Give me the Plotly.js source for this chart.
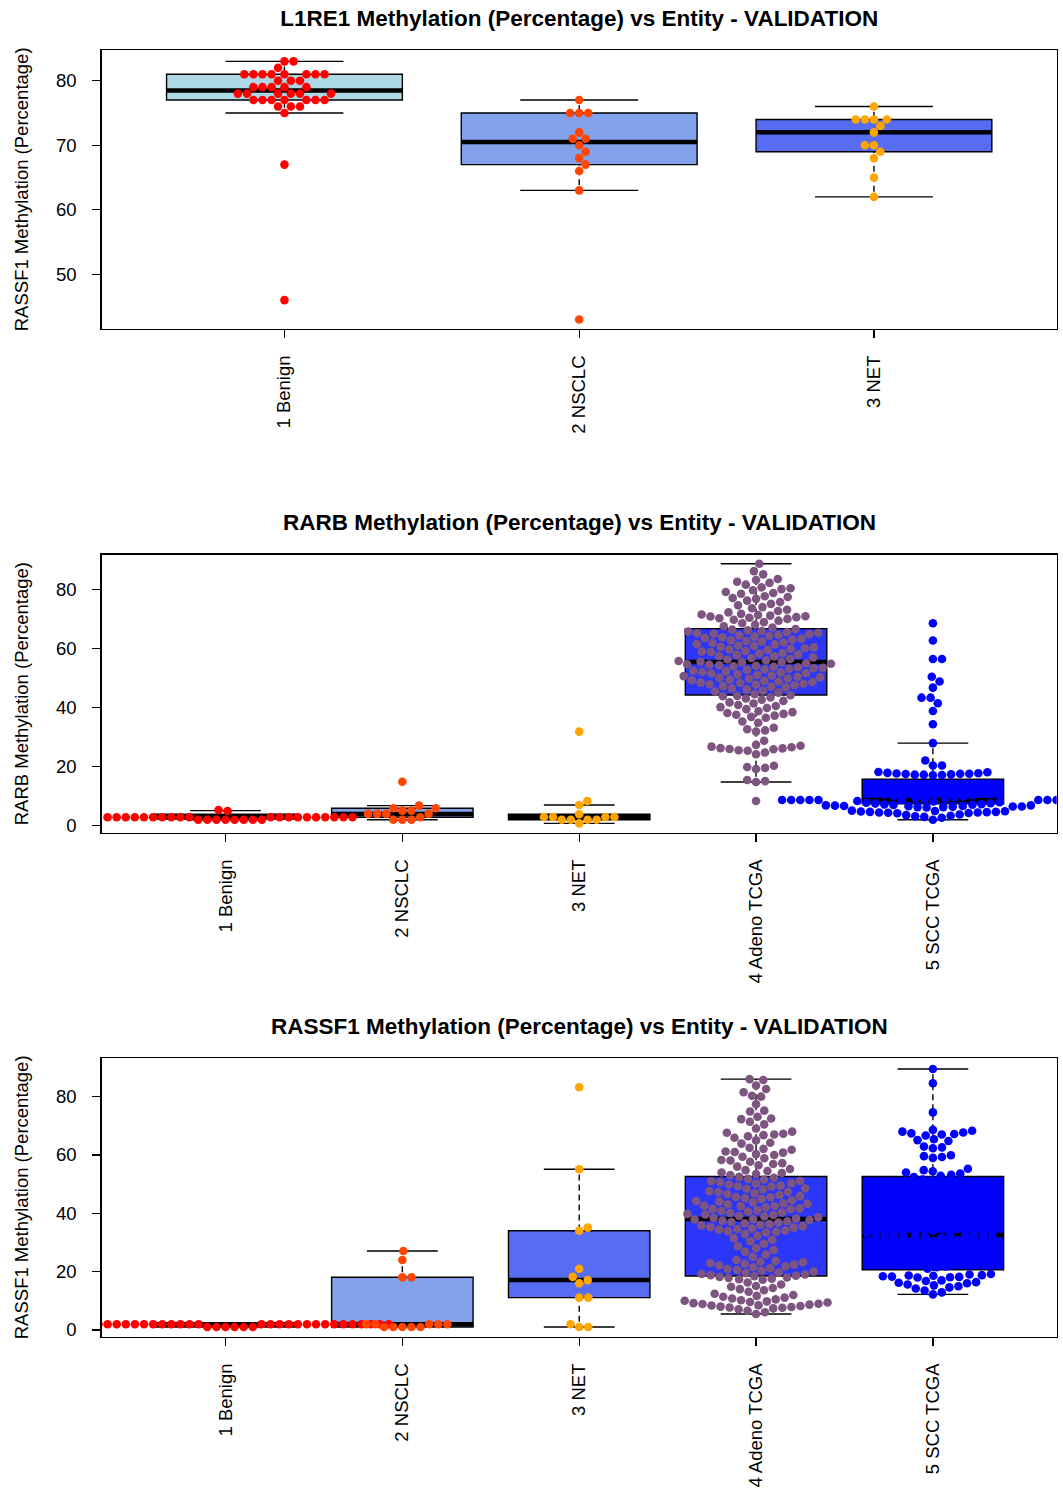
<!DOCTYPE html>
<html><head><meta charset="utf-8">
<script src="https://cdn.plot.ly/plotly-3.0.1.min.js"></script>
<style>html,body{margin:0;padding:0;background:#fff}</style>
</head><body><div id="chart" style="width:1063px;height:1488px"></div>
<script>
// ---------------- DATA ----------------
const titles = [
  "L1RE1 Methylation (Percentage) vs Entity - VALIDATION",
  "RARB Methylation (Percentage) vs Entity - VALIDATION",
  "RASSF1 Methylation (Percentage) vs Entity - VALIDATION"
];
const yTitles = [
  "RASSF1 Methylation (Percentage)",
  "RARB Methylation (Percentage)",
  "RASSF1 Methylation (Percentage)"
];
const cats3 = ["1 Benign", "2 NSCLC", "3 NET"];
const cats5 = ["1 Benign", "2 NSCLC", "3 NET", "4 Adeno TCGA", "5 SCC TCGA"];
const yTicks1 = [50, 60, 70, 80];
const yTicks23 = [0, 20, 40, 60, 80];

const pointColors = ["#FF0000", "#FF4500", "#FFA500", "#7D5580", "#0000FF"];
const boxColors = ["#ADD8E6", "#82A2EC", "#566CF2", "#2B36F9", "#0000FF"];

// Panel 1: L1RE1
const l1_benign = [83,83,82,81,81,81,81,81,81,81,81,80,80,80,79,79,79,79,79,78,78,78,78,78,78,77,77,77,77,77,77,77,76,76,76,75,67,46];
const l1_nsclc = [77,75,75,75,72,71,71,70,69,68,67,66,63,43];
const l1_net = [76,74,74,74,74,73,72,70,70,69,68,65,62];
const l1_q1  = [77, 67, 69];
const l1_med = [78.5, 70.5, 72];
const l1_q3  = [81, 75, 74];
const l1_lo  = [75, 63, 62];
const l1_hi  = [83, 77, 76];

// Panel 2: RARB
const rarb_benign = [5.0,5.3,
  2.85,2.85,2.85,2.85,2.85,2.85,2.85,2.85,2.85,2.85,2.85,2.85,2.85,2.85,2.85,2.85,2.85,2.85,2.85,2.85,
  2.0,2.0,2.0,2.0,2.0,2.0,2.0,2.0];
const rarb_nsclc = [14.9,6.8,5.9,5.9,5.1,5.1,4.0,4.0,4.0,4.0,2.85,2.0,2.0,2.0];
const rarb_net = [31.9,8.4,7.0,3.9,2.95,2.95,2.95,2.95,2.0,2.0,2.0,2.0,0.8];
const rarb_adeno = [
  88.8,86.3,85.2,83.6,83.3,82.7,82.3,81.7,80.8,80.5,80.2,79.8,79.2,78.9,78.6,
  77.8,77.5,77.2,76.9,76.3,75.8,75.2,74.7,74.1,73.7,73.2,72.8,72.3,
  71.8,71.6,71.4,71.2,71.0,70.9,70.7,70.5,70.3,70.1,69.8,69.5,69.0,68.6,68.1,67.6,67.2,
  66.7,66.45,66.2,66.0,65.8,65.6,65.4,65.25,65.05,64.9,64.7,64.5,64.3,64.1,
  63.9,63.6,63.4,63.05,62.9,62.6,62.4,62.1,61.95,61.6,61.45,61.1,
  60.95,60.6,60.45,60.15,60.0,59.75,59.6,59.2,59.05,
  58.9,58.55,58.4,58.05,57.9,57.5,57.4,57.0,56.85,56.5,56.35,56.0,
  55.85,55.55,55.45,55.35,55.05,54.9,54.75,54.6,54.4,54.2,54.05,
  53.9,53.7,53.5,53.35,53.2,52.95,52.8,52.5,52.3,52.1,51.9,51.7,51.6,51.3,51.1,
  50.9,50.7,50.5,50.3,50.1,49.9,49.8,49.5,49.3,49.1,48.9,48.7,48.5,48.35,48.1,
  47.95,47.8,47.6,47.3,47.1,46.9,46.5,46.2,45.8,45.5,45.1,44.6,
  44.2,44.0,43.9,43.5,43.1,42.7,42.3,41.8,41.4,40.9,40.6,40.2,39.9,39.5,
  38.8,38.5,38.2,37.9,37.6,37.3,36.9,36.6,35.3,34.9,33.2,32.7,32.3,31.9,28.8,
  27.4,27.1,26.8,26.6,26.3,26.2,26.0,25.9,25.6,25.4,24.8,24.2,
  20.3,19.9,19.6,19.2,15.5,15.1,14.8,8.4];
const rarb_scc = [
  68.6,62.8,56.5,56.5,50.5,48.9,46.8,43.4,43.4,41.5,38.9,34.4,28.0,22.1,20.4,20.4,
  18.2,18.1,17.9,17.8,17.7,17.6,17.6,17.5,17.4,17.3,17.3,17.2,17.1,
  14.0,13.6,13.1,12.8,12.4,12.1,11.8,11.4,11.2,10.9,10.6,10.3,10.1,9.9,9.7,9.5,9.3,9.2,
  8.7,8.7,8.7,8.7,8.7,8.7,8.7,8.7,8.7,8.7,8.7,8.7,
  8.4,8.2,8.0,7.8,7.6,7.5,
  7.3,7.2,7.1,7.0,6.9,6.9,6.8,6.7,6.7,6.6,6.5,6.5,6.4,6.3,6.3,6.2,
  5.1,5.0,4.9,4.8,4.7,4.7,4.6,4.5,4.5,4.4,4.3,4.2,
  3.8,3.6,3.4,3.2,3.0,2.7,2.0];
const rarb_q1  = [2.3, 2.85, 2.0, 44.3, 7.4];
const rarb_med = [2.85, 4.0, 2.95, 55.5, 8.7];
const rarb_q3  = [3.9, 5.9, 3.9, 66.8, 15.8];
const rarb_lo  = [2.0, 2.0, 0.8, 14.8, 2.0];
const rarb_hi  = [5.1, 6.8, 7.0, 88.8, 28.0];

// Panel 3: RASSF1
const rassf_benign = [
  1.95,1.95,1.95,1.95,1.95,1.95,1.95,1.95,1.95,1.95,1.95,1.95,1.95,1.95,1.95,
  1.95,1.95,1.95,1.95,1.95,1.95,1.95,1.95,1.95,1.95,1.95,1.95,1.95,1.95,1.95,
  1.0,1.0,1.0,1.0,1.0,1.0];
const rassf_nsclc = [27.1,24.0,18.1,18.1,1.95,1.95,1.95,1.95,1.95,1.0,1.0,1.0,1.0,1.0];
const rassf_net = [83.2,55.1,35.1,34.0,21.0,18.2,17.1,16.0,11.1,11.1,1.95,1.0,1.0];
const rassf_adeno = [
  86.0,85.7,83.8,82.6,81.5,80.3,80.0,77.4,75.2,74.9,73.1,72.5,72.3,71.4,70.5,69.1,68.0,
  67.6,67.3,67.0,66.8,66.4,65.9,65.0,64.2,63.9,62.5,62.1,
  61.8,61.2,61.0,60.8,60.3,60.0,59.4,58.9,58.3,58.1,57.7,57.2,56.9,56.5,56.0,55.2,
  54.8,54.5,54.0,53.8,53.5,53.1,
  52.5,52.2,51.8,51.6,51.1,51.0,50.7,50.3,50.2,49.9,49.5,49.3,49.2,48.5,48.4,
  48.2,47.6,47.4,47.3,46.9,46.6,46.3,45.9,45.6,45.5,45.2,44.9,44.5,44.2,44.1,43.8,43.4,
  43.3,43.1,42.7,42.5,42.4,42.0,41.7,41.5,41.4,41.0,
  40.8,40.6,40.3,40.1,39.8,39.6,39.4,39.1,38.9,38.7,38.4,38.2,38.0,37.9,37.7,37.5,
  37.3,37.0,36.8,36.6,36.3,36.1,35.8,35.6,35.3,35.1,34.8,34.6,34.4,34.1,33.9,33.7,33.4,
  32.9,32.3,31.5,30.9,30.4,29.6,28.7,28.0,27.4,26.8,25.9,25.1,
  24.0,23.7,23.4,23.2,22.9,22.7,22.4,22.1,21.8,21.5,21.2,20.9,20.6,20.3,
  20.0,19.7,19.5,19.2,19.0,18.8,18.6,18.4,18.2,18.0,17.8,17.6,17.4,17.2,
  16.3,15.6,15.1,14.8,14.4,14.0,13.6,13.1,
  12.4,12.0,11.7,11.4,11.1,10.8,10.5,10.2,10.0,
  9.8,9.6,9.4,9.2,9.0,8.9,8.7,8.5,8.4,8.2,8.0,7.9,7.7,7.6,7.4,
  7.1,6.6,6.1,5.5];
const rassf_scc = [
  89.5,84.6,74.6,68.6,68.3,68.0,67.7,67.4,67.2,67.0,66.7,65.4,65.1,64.8,62.9,62.6,62.3,59.9,59.6,59.3,59.0,
  55.3,54.8,54.4,54.0,53.6,53.2,52.9,
  52.4,51.6,51.3,50.2,49.8,48.7,48.3,47.1,46.9,45.6,45.2,44.0,43.7,42.6,41.8,41.0,40.6,39.3,39.0,37.7,37.4,36.2,35.8,34.6,34.0,33.3,
  32.6,32.6,32.6,32.6,32.6,32.6,32.6,32.6,32.6,32.6,
  32.1,31.7,30.8,30.6,29.8,29.5,28.9,28.4,28.1,27.5,27.2,26.6,26.3,25.7,25.3,24.9,24.4,24.0,23.5,23.1,22.7,22.3,21.8,21.5,21.0,
  19.2,19.0,18.8,18.7,18.6,18.4,18.3,18.2,18.1,18.0,
  17.0,16.8,16.4,16.2,16.0,15.6,15.3,15.0,14.6,14.2,13.5,12.9,12.2];
const rassf_q1  = [1.0, 1.0, 11.1, 18.5, 20.6];
const rassf_med = [1.95, 1.95, 17.1, 38.05, 32.6];
const rassf_q3  = [2.3, 18.1, 34.0, 52.6, 52.6];
const rassf_lo  = [1.0, 1.0, 1.0, 5.5, 12.2];
const rassf_hi  = [2.3, 27.1, 55.1, 86.0, 89.5];

// ---------------- GEOMETRY / STYLE ----------------
const W = 1063, H = 1488;
const X0 = 101.7, X1 = 1056.7;
const DOT = 9.1;          // swarm spacing in px
const MSIZE = 8.6;        // marker diameter
const FONT = "Liberation Sans, Arial, Helvetica, sans-serif";

const panels = [
  {cats: cats3, groups: [l1_benign, l1_nsclc, l1_net], q1: l1_q1, med: l1_med, q3: l1_q3, lo: l1_lo, hi: l1_hi,
   xrange: [0.38, 3.62], yrange: [41.57, 84.76], ypx: [50, 328.7], yticks: yTicks1, titleY: 18},
  {cats: cats5, groups: [rarb_benign, rarb_nsclc, rarb_net, rarb_adeno, rarb_scc], q1: rarb_q1, med: rarb_med, q3: rarb_q3, lo: rarb_lo, hi: rarb_hi,
   xrange: [0.3, 5.7], yrange: [-2.37, 91.86], ypx: [554.7, 832.7], yticks: yTicks23, titleY: 522},
  {cats: cats5, groups: [rassf_benign, rassf_nsclc, rassf_net, rassf_adeno, rassf_scc], q1: rassf_q1, med: rassf_med, q3: rassf_q3, lo: rassf_lo, hi: rassf_hi,
   xrange: [0.3, 5.7], yrange: [-2.3, 93.25], ypx: [1058, 1336.7], yticks: yTicks23, titleY: 1026}
];

// beeswarm "swarm" placement (ascending priority), returns px offsets
function swarm(values, pyu, d) {
  const idx = values.map((v, i) => i).sort((a, b) => (values[a] - values[b]) || (a - b));
  const placed = [];
  const offs = new Array(values.length).fill(0);
  for (const i of idx) {
    const yi = values[i] * pyu / d;
    let near = placed.filter(p => yi - p.y < 1);
    let best = 0;
    if (near.length) {
      near = near.slice().sort((a, b) => Math.abs(a.x) - Math.abs(b.x));
      const dd = near.map(p => Math.sqrt(Math.max(0, 1 - (yi - p.y) * (yi - p.y))));
      const cands = [0].concat(near.map((p, k) => p.x + dd[k]), near.map((p, k) => p.x - dd[k]));
      let bestAbs = Infinity; best = 0;
      for (const c of cands) {
        const bad = near.some(p => (yi - p.y) * (yi - p.y) + (c - p.x) * (c - p.x) < 0.999);
        if (!bad && Math.abs(c) < bestAbs) { bestAbs = Math.abs(c); best = c; }
      }
    }
    placed.push({y: yi, x: best});
    offs[i] = best * d;
  }
  return offs;
}

const traces = [];
const layout = {
  width: W, height: H, margin: {l: 0, r: 0, t: 0, b: 0},
  paper_bgcolor: "#fff", plot_bgcolor: "#fff", showlegend: false,
  font: {family: FONT, color: "#000", size: 18.5},
  boxmode: "overlay",
  annotations: []
};

panels.forEach((p, k) => {
  const n = k === 0 ? "" : String(k + 1);
  const xa = "x" + n, ya = "y" + n;
  const pxu = (X1 - X0) / (p.xrange[1] - p.xrange[0]);
  const pyu = (p.ypx[1] - p.ypx[0]) / (p.yrange[1] - p.yrange[0]);

  // boxes
  p.groups.forEach((vals, g) => {
    traces.push({
      type: "box", name: p.cats[g], x: [g + 1],
      q1: [p.q1[g]], median: [p.med[g]], q3: [p.q3[g]],
      lowerfence: [p.lo[g]], upperfence: [p.hi[g]],
      width: 0.8, whiskerwidth: 0.5, boxpoints: false,
      fillcolor: boxColors[g], line: {color: "#000", width: 1.4},
      xaxis: xa, yaxis: ya, hoverinfo: "skip"
    });
  });

  // thick medians
  const mx = [], my = [];
  p.groups.forEach((vals, g) => { mx.push(g + 0.6, g + 1.4, null); my.push(p.med[g], p.med[g], null); });
  traces.push({type: "scatter", mode: "lines", x: mx, y: my, line: {color: "#000", width: 4.5},
    xaxis: xa, yaxis: ya, hoverinfo: "skip"});

  // dashed look for whiskers (white gaps over the solid whisker)
  const wx = [], wy = [];
  const e = 1.2 / pyu;
  p.groups.forEach((vals, g) => {
    if (p.hi[g] - p.q3[g] > 2 * e) { wx.push(g + 1, g + 1, null); wy.push(p.hi[g] - e, p.q3[g] + e, null); }
    if (p.q1[g] - p.lo[g] > 2 * e) { wx.push(g + 1, g + 1, null); wy.push(p.lo[g] + e, p.q1[g] - e, null); }
  });
  traces.push({type: "scatter", mode: "lines", x: wx, y: wy, line: {color: "#fff", width: 3, dash: "4px,6px"},
    xaxis: xa, yaxis: ya, hoverinfo: "skip"});

  // swarm points
  p.groups.forEach((vals, g) => {
    const offs = swarm(vals, pyu, DOT);
    traces.push({
      type: "scatter", mode: "markers", name: p.cats[g],
      x: offs.map(o => g + 1 + o / pxu), y: vals,
      marker: {size: MSIZE, color: pointColors[g], line: {width: 0}},
      xaxis: xa, yaxis: ya, hoverinfo: "skip"
    });
  });

  layout["xaxis" + n] = {
    domain: [X0 / W, X1 / W], range: p.xrange, anchor: ya,
    tickmode: "array", tickvals: p.cats.map((c, i) => i + 1), ticktext: p.cats,
    tickangle: -90, ticks: "outside", ticklen: 8, tickwidth: 1.4, tickcolor: "#000",
    showline: true, linecolor: "#000", linewidth: 1.4, mirror: true,
    showgrid: false, zeroline: false, ticklabelstandoff: 10,
    tickfont: {family: FONT, size: 18.5, color: "#000"}, fixedrange: true
  };
  layout["yaxis" + n] = {
    domain: [1 - p.ypx[1] / H, 1 - p.ypx[0] / H], range: p.yrange, anchor: xa,
    tickmode: "array", tickvals: p.yticks,
    ticks: "outside", ticklen: 8, tickwidth: 1.4, tickcolor: "#000",
    showline: true, linecolor: "#000", linewidth: 1.4, mirror: true,
    showgrid: false, zeroline: false, ticklabelstandoff: 12,
    tickfont: {family: FONT, size: 18.5, color: "#000"}, fixedrange: true,
    title: {text: yTitles[k], font: {family: FONT, size: 18.5, color: "#000"}, standoff: 22}
  };

  if (k === 0) {
    layout.title = {text: "<b>" + titles[0] + "</b>", x: (X0 + X1) / 2 / W, xanchor: "center",
      y: 1 - p.titleY / H, yanchor: "middle", yref: "container", font: {family: FONT, size: 22.5, color: "#000"}};
  } else {
    layout.annotations.push({text: "<b>" + titles[k] + "</b>", xref: "paper", yref: "paper",
      x: (X0 + X1) / 2 / W, y: 1 - p.titleY / H, xanchor: "center", yanchor: "middle", showarrow: false,
      font: {family: FONT, size: 22.5, color: "#000"}});
  }
});

Plotly.newPlot("chart", traces, layout, {displayModeBar: false, staticPlot: true});
</script></body></html>
